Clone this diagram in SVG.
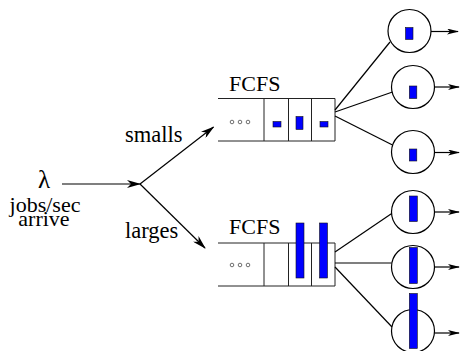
<svg xmlns="http://www.w3.org/2000/svg" width="460" height="351" viewBox="0 0 460 351">
  <style>
    .ln { fill: none; stroke: #000; stroke-width: 1.2; }
    .box { fill: none; stroke: #222; stroke-width: 1; }
    .srv { fill: #fff; stroke: #000; stroke-width: 1.2; }
    .job { fill: #0000ff; stroke: #111; stroke-width: 0.6; }
    .dot { fill: #fff; stroke: #333; stroke-width: 0.7; }
    .t { font-family: "Liberation Serif", "Times New Roman", serif; fill: #000; }
  </style>
  <defs>
    <marker id="headBig" viewBox="0 0 14 8" refX="13" refY="4" markerWidth="14" markerHeight="8" markerUnits="userSpaceOnUse" orient="auto">
      <path d="M0,0 L14,4 L0,8 L4,4 z" fill="#000"/>
    </marker>
    <marker id="headSmall" viewBox="0 0 12 6" refX="11" refY="3" markerWidth="12" markerHeight="6" markerUnits="userSpaceOnUse" orient="auto">
      <path d="M0,0 L12,3 L0,6 L3,3 z" fill="#000"/>
    </marker>
  </defs>

  <!-- arrival label -->
  <g id="arrivals">
    <text class="t" x="44" y="188" font-size="25" text-anchor="middle">λ</text>
    <text class="t" x="45" y="212" font-size="22" text-anchor="middle">jobs/sec</text>
    <text class="t" x="44" y="226" font-size="22" text-anchor="middle">arrive</text>
  </g>

  <!-- branch labels -->
  <g id="labels">
    <text class="t" x="125" y="142" font-size="22.5">smalls</text>
    <text class="t" x="125" y="238" font-size="22.5">larges</text>
  </g>

  <!-- small-job queue -->
  <g id="queue-small">
    <text class="t" x="229" y="90.5" font-size="22">FCFS</text>
    <path class="box" d="M218,98.5 H335 V141 H218 M264,98.5 V141 M288.5,98.5 V141 M311.5,98.5 V141"/>
    <circle class="dot" cx="232" cy="122" r="1.8"/>
    <circle class="dot" cx="240" cy="122" r="1.8"/>
    <circle class="dot" cx="248" cy="122" r="1.8"/>
    <rect class="job" x="273" y="121.5" width="8" height="5.5"/>
    <rect class="job" x="296" y="116.5" width="7" height="13"/>
    <rect class="job" x="320" y="121.5" width="8" height="5.5"/>
  </g>

  <!-- large-job queue -->
  <g id="queue-large">
    <text class="t" x="229" y="234" font-size="22">FCFS</text>
    <path class="box" d="M218,243 H335 V286 H218 M264,243 V286 M288.5,243 V286 M311.5,243 V286"/>
    <circle class="dot" cx="232" cy="265" r="1.8"/>
    <circle class="dot" cx="240" cy="265" r="1.8"/>
    <circle class="dot" cx="248" cy="265" r="1.8"/>
    <rect class="job" x="296" y="223" width="8" height="55"/>
    <rect class="job" x="319.5" y="223" width="8" height="55"/>
  </g>

  <!-- servers -->
  <g id="server-s1">
    <circle class="srv" cx="409.5" cy="31" r="21.5"/>
    <rect class="job" x="405.5" y="27.5" width="7.5" height="12"/>
  </g>
  <g id="server-s2">
    <circle class="srv" cx="413" cy="87" r="21.5"/>
    <rect class="job" x="409.3" y="86" width="7.5" height="12.5"/>
  </g>
  <g id="server-s3">
    <circle class="srv" cx="413" cy="152" r="21.5"/>
    <rect class="job" x="409.3" y="149" width="7.5" height="12"/>
  </g>
  <g id="server-l1">
    <circle class="srv" cx="413" cy="212" r="21.5"/>
    <rect class="job" x="409.3" y="196" width="8" height="25.5"/>
  </g>
  <g id="server-l2">
    <circle class="srv" cx="413" cy="267" r="21.5"/>
    <rect class="job" x="409.3" y="247.5" width="8" height="36"/>
  </g>
  <g id="server-l3">
    <circle class="srv" cx="413" cy="331" r="21.5"/>
    <rect class="job" x="409.3" y="293.5" width="8" height="55"/>
  </g>

  <!-- connectors -->
  <g id="connectors">
    <line class="ln" x1="62" y1="184" x2="140" y2="184" marker-end="url(#headBig)"/>
    <line class="ln" x1="140" y1="184" x2="213.5" y2="127" marker-end="url(#headBig)"/>
    <line class="ln" x1="140" y1="184" x2="205" y2="248" marker-end="url(#headBig)"/>

    <line class="ln" x1="335" y1="110" x2="390" y2="42"/>
    <line class="ln" x1="335" y1="112" x2="392.5" y2="92"/>
    <line class="ln" x1="335" y1="116" x2="392.5" y2="145"/>

    <line class="ln" x1="335" y1="252" x2="391.7" y2="213.5"/>
    <line class="ln" x1="335" y1="263" x2="391.6" y2="263"/>
    <line class="ln" x1="335" y1="267" x2="392" y2="327"/>

    <line class="ln" x1="431" y1="31.5" x2="458" y2="31.5" marker-end="url(#headSmall)"/>
    <line class="ln" x1="434.5" y1="87" x2="459" y2="87" marker-end="url(#headSmall)"/>
    <line class="ln" x1="434.5" y1="152.5" x2="459" y2="152.5" marker-end="url(#headSmall)"/>
    <line class="ln" x1="434.5" y1="212" x2="459" y2="212" marker-end="url(#headSmall)"/>
    <line class="ln" x1="434.5" y1="267" x2="459" y2="267" marker-end="url(#headSmall)"/>
    <line class="ln" x1="434.5" y1="333" x2="459" y2="333" marker-end="url(#headSmall)"/>
  </g>
</svg>
